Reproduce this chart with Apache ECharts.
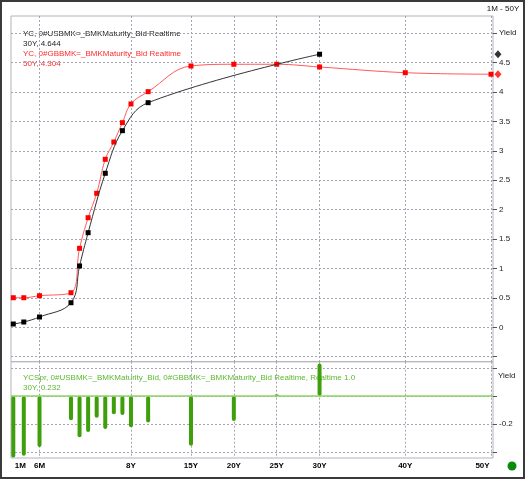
<!DOCTYPE html>
<html><head><meta charset="utf-8">
<script src="https://cdn.jsdelivr.net/npm/echarts@6/dist/echarts.min.js"></script>
<style>html,body{margin:0;padding:0;background:#fff}#c{width:525px;height:479px}</style>
</head><body><div id="c"></div>
<script>
// ---- data ----
const gbMaturities = ['1M','3M','6M','1Y','2Y','3Y','4Y','5Y','6Y','7Y','8Y','10Y','15Y','20Y','25Y','30Y','40Y','50Y'];
const gbYields     = [0.503,0.503,0.537,0.588,1.343,1.864,2.279,2.857,3.151,3.480,3.798,4.007,4.444,4.473,4.473,4.427,4.330,4.304];
const usMaturities = ['1M','3M','6M','1Y','2Y','3Y','5Y','7Y','10Y','30Y'];
const usYields     = [0.056,0.090,0.175,0.418,1.043,1.609,2.619,3.344,3.820,4.644];
const spreadMaturities = ['1M','3M','6M','1Y','2Y','3Y','4Y','5Y','6Y','7Y','8Y','10Y','15Y','20Y','25Y','30Y'];
const spreadValues     = [-0.440,-0.427,-0.364,-0.174,-0.295,-0.257,-0.155,-0.236,-0.131,-0.136,-0.224,-0.190,-0.355,-0.179,0.010,0.232];
const xTickLabels   = ['1M','6M','8Y','15Y','20Y','25Y','30Y','40Y','50Y'];
const xGridLabels   = ['6M','8Y','15Y','20Y','25Y','30Y','40Y','50Y'];
const yieldTicks    = [-0.5,0,0.5,1,1.5,2,2.5,3,3.5,4,4.5,5];
const yieldLabels   = [0,0.5,1,1.5,2,2.5,3,3.5,4,4.5,5];
const spreadTicks   = [-0.4,-0.2,0,0.2];
const spreadLabels  = [-0.2];
const usLast = {label:'30Y', value:4.644};
const gbLast = {label:'50Y', value:4.304};
const spreadLast = {label:'30Y', value:0.232};

// ---- maturity scale (short end expanded) ----
const SHORT = 7.34;
function yrs(m){ const n = parseFloat(m); return m.endsWith('M') ? n/12 : n; }
function u(t){ return t <= 1 ? t*SHORT : SHORT + (t-1); }
const PX = 8.572; // px per axis unit (layout)
const xMin = u(yrs('1M')) - 2.3/PX;
const xMax = u(yrs('50Y')) + 2/PX;
const diamondX = xMax + 5/PX;

const tickPos = xTickLabels.map(l => [u(yrs(l)), l]);
function xLabel(v){
  let best = tickPos[0];
  tickPos.forEach(p => { if (Math.abs(p[0]-v) < Math.abs(best[0]-v)) best = p; });
  if (best[1] === '1M') return '{l|1M}';
  if (best[1] === '50Y') return '{r|50Y}';
  return best[1];
}

const FONT = '"Liberation Sans", Arial, sans-serif';
const gridLine = {show:true, lineStyle:{color:'#a4a4b4', width:1, type:[2,2]}};

const chart = echarts.init(document.getElementById('c'), null, {renderer:'canvas'});
chart.setOption({
  animation:false,
  backgroundColor:'#fff',
  grid:[
    {left:11, right:32, top:16, height:345.7, show:true, borderColor:'#b4b4bc', borderWidth:1},
    {left:11, right:32, top:361.7, height:96.3, show:true, borderColor:'#b4b4bc', borderWidth:1}
  ],
  xAxis:[
    {type:'value', gridIndex:0, min:xMin, max:xMax,
     axisLine:{show:false}, axisTick:{show:false, customValues:xGridLabels.map(l=>u(yrs(l)))},
     axisLabel:{show:false}, splitLine:gridLine},
    {type:'value', gridIndex:1, min:xMin, max:xMax,
     axisLine:{show:false}, axisTick:{show:false, customValues:xGridLabels.map(l=>u(yrs(l)))},
     axisLabel:{show:true, customValues:xTickLabels.map(l=>u(yrs(l))), formatter:xLabel, margin:4,
       fontFamily:FONT, fontSize:8, fontWeight:'bold', color:'#000',
       rich:{l:{fontFamily:FONT, fontSize:8, fontWeight:'bold', color:'#000', padding:[0,0,0,14]},
             r:{fontFamily:FONT, fontSize:8, fontWeight:'bold', color:'#000', padding:[0,17,0,0]}}},
     splitLine:gridLine}
  ],
  yAxis:[
    {type:'value', gridIndex:0, position:'right', min:-0.585, max:5.294,
     axisLine:{show:false},
     axisTick:{show:true, inside:false, length:4, customValues:yieldTicks, lineStyle:{color:'#555'}},
     axisLabel:{show:true, customValues:yieldLabels, margin:6, fontFamily:FONT, fontSize:8, color:'#222',
       formatter:v => (Math.abs(v-5)<1e-6 ? 'Yield' : String(v))},
     splitLine:gridLine},
    {type:'value', gridIndex:1, position:'right', min:-0.443, max:0.245,
     axisLine:{show:false},
     axisTick:{show:true, inside:false, length:4, customValues:spreadTicks, lineStyle:{color:'#555'}},
     axisLabel:{show:true, customValues:spreadLabels, margin:6, fontFamily:FONT, fontSize:8, color:'#222',
       formatter:v => v.toFixed(1)},
     splitLine:gridLine}
  ],
  series:[
    {type:'line', name:'US', xAxisIndex:0, yAxisIndex:0,
     data:usMaturities.map((m,i)=>[u(yrs(m)), usYields[i]]),
     smooth:0.4, symbol:'rect', symbolSize:5, showAllSymbol:true,
     lineStyle:{color:'#333', width:1}, itemStyle:{color:'#000'}, z:4},
    {type:'line', name:'GB', xAxisIndex:0, yAxisIndex:0,
     data:gbMaturities.map((m,i)=>[u(yrs(m)), gbYields[i]]),
     smooth:0.4, symbol:'rect', symbolSize:5, showAllSymbol:true,
     lineStyle:{color:'#ff5a5a', width:1}, itemStyle:{color:'#ff0000'}, z:3},
    {type:'scatter', xAxisIndex:0, yAxisIndex:0, clip:false, symbol:'diamond', symbolSize:[7,8],
     data:[{value:[diamondX, usLast.value], itemStyle:{color:'#000'}},
           {value:[diamondX, gbLast.value], itemStyle:{color:'#ff0000'}}], z:5},
    {type:'bar', name:'Spread', xAxisIndex:1, yAxisIndex:1,
     data:spreadMaturities.map((m,i)=>[u(yrs(m)), spreadValues[i]]),
     barWidth:4, itemStyle:{color:'#3f9f0a', borderRadius:2},
     markLine:{silent:true, symbol:'none', label:{show:false},
       lineStyle:{color:'#8ed46a', width:1.5, type:'solid'}, data:[{yAxis:0}]}, z:3}
  ],
  graphic:[
    {type:'rect', shape:{x:1, y:1, width:523, height:477}, style:{fill:'none', stroke:'#3a3a3a', lineWidth:2}, silent:true},
    {type:'text', style:{x:503, y:9, text:'1M - 50Y', fill:'#111', font:'8px '+FONT, align:'center', verticalAlign:'middle'}},
    {type:'text', style:{x:23, y:33.5, text:'YC, 0#USBMK=_BMKMaturity_Bid Realtime', fill:'#222', font:'8px '+FONT, verticalAlign:'middle'}},
    {type:'text', style:{x:23, y:43.5, text:usLast.label+', '+usLast.value.toFixed(3), fill:'#222', font:'8px '+FONT, verticalAlign:'middle'}},
    {type:'text', style:{x:23, y:54, text:'YC, 0#GBBMK=_BMKMaturity_Bid Realtime', fill:'#ff2a2a', font:'8px '+FONT, verticalAlign:'middle'}},
    {type:'text', style:{x:23, y:64, text:gbLast.label+', '+gbLast.value.toFixed(3), fill:'#ff2a2a', font:'8px '+FONT, verticalAlign:'middle'}},
    {type:'text', style:{x:23, y:378, text:'YCSpr, 0#USBMK=_BMKMaturity_Bid, 0#GBBMK=_BMKMaturity_Bid Realtime, Realtime 1.0', fill:'#5cb82e', font:'8px '+FONT, verticalAlign:'middle'}},
    {type:'text', style:{x:23, y:388, text:spreadLast.label+', '+spreadLast.value.toFixed(3), fill:'#5cb82e', font:'8px '+FONT, verticalAlign:'middle'}},
    {type:'text', style:{x:498, y:376, text:'Yield', fill:'#222', font:'8px '+FONT, verticalAlign:'middle'}},
    {type:'circle', shape:{cx:512, cy:466, r:4.5}, style:{fill:'#0a8a0a'}}
  ]
});
</script></body></html>
